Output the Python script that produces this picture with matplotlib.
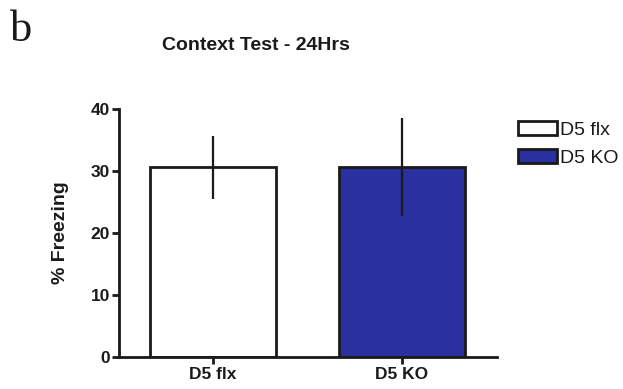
import matplotlib
matplotlib.use("Agg")
import matplotlib.pyplot as plt
from matplotlib.patches import Patch

groups = ["D5 flx", "D5 KO"]
means = [30.6, 30.6]
sems = [5.1, 7.9]
colors = ["white", "#2b30a0"]

plt.rcParams["font.family"] = ["Liberation Sans", "DejaVu Sans"]
ink = "#1a1a1a"

fig = plt.figure(figsize=(6.23, 3.89), dpi=100)
ax = fig.add_axes([118.5 / 623, 32 / 389, 378 / 623, 248 / 389])

x = range(len(groups))
ax.bar(x, means, width=0.667, color=colors, edgecolor=ink, linewidth=2.0, zorder=2)
ax.errorbar(x, means, yerr=sems, fmt="none", ecolor=ink, elinewidth=1.6, capsize=0, zorder=3)

ax.set_xlim(-0.5, 1.5)
ax.set_ylim(0, 40)
ax.set_yticks([0, 10, 20, 30, 40])
ax.set_xticks(list(x))
ax.set_xticklabels(groups, fontweight="bold", fontsize=12.5)
for lab in ax.get_yticklabels():
    lab.set_fontweight("bold")
    lab.set_fontsize(12.5)

for side in ["top", "right"]:
    ax.spines[side].set_visible(False)
for side in ["left", "bottom"]:
    ax.spines[side].set_linewidth(2.0)
    ax.spines[side].set_color(ink)
ax.tick_params(axis="both", width=2.0, length=5, color=ink, labelcolor=ink)
ax.tick_params(axis="y", pad=1)
ax.tick_params(axis="x", pad=2)

ax.set_ylabel("% Freezing", fontweight="bold", fontsize=14, color=ink, labelpad=16)

fig.text(256 / 623, 1 - 45 / 389, "Context Test - 24Hrs", ha="center", va="center",
         fontweight="bold", fontsize=14, color=ink)
fig.text(10 / 623, 1 - 30 / 389, "b", ha="left", va="center",
         family="Liberation Serif", fontsize=32, color=ink)

handles = [Patch(facecolor=c, edgecolor=ink, linewidth=2.0, label=g)
           for g, c in zip(groups, colors)]
fig.legend(handles=handles, loc="upper left", bbox_to_anchor=(518 / 623, 1 - 121 / 389),
           frameon=False, fontsize=14, handlelength=2.0, handleheight=0.75,
           handletextpad=0.15, labelspacing=0.5, borderaxespad=0, borderpad=0,
           labelcolor=ink)

fig.savefig("out.png", dpi=100)
